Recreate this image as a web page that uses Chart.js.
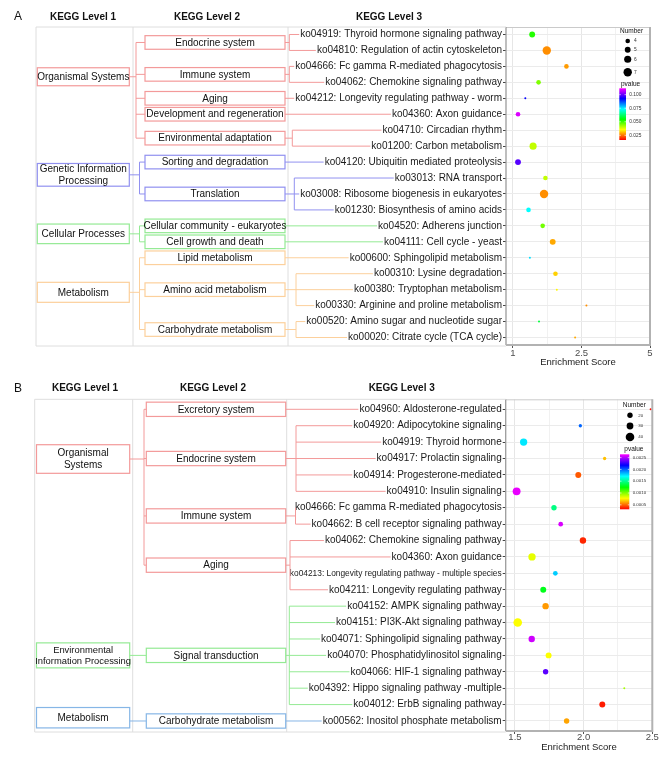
<!DOCTYPE html>
<html><head><meta charset="utf-8">
<script src="https://cdn.jsdelivr.net/npm/chart.js@4.4.1/dist/chart.umd.min.js"></script>
<style>
html,body{margin:0;padding:0;background:#fff;}
#wrap{width:669px;height:766px;overflow:hidden;}
canvas{display:block;}
</style></head><body>
<div id="wrap">
<canvas id="cA" width="669" height="375"></canvas>
<canvas id="cB" width="669" height="391"></canvas>
</div>
<script>
const FONT = '"Liberation Sans", Arial, Helvetica, sans-serif';

// ---------------- Panel A data ----------------
const A_LEVEL3 = [
  'ko04919: Thyroid hormone signaling pathway',
  'ko04810: Regulation of actin cytoskeleton',
  'ko04666: Fc gamma R-mediated phagocytosis',
  'ko04062: Chemokine signaling pathway',
  'ko04212: Longevity regulating pathway - worm',
  'ko04360: Axon guidance',
  'ko04710: Circadian rhythm',
  'ko01200: Carbon metabolism',
  'ko04120: Ubiquitin mediated proteolysis',
  'ko03013: RNA transport',
  'ko03008: Ribosome biogenesis in eukaryotes',
  'ko01230: Biosynthesis of amino acids',
  'ko04520: Adherens junction',
  'ko04111: Cell cycle - yeast',
  'ko00600: Sphingolipid metabolism',
  'ko00310: Lysine degradation',
  'ko00380: Tryptophan metabolism',
  'ko00330: Arginine and proline metabolism',
  'ko00520: Amino sugar and nucleotide sugar',
  'ko00020: Citrate cycle (TCA cycle)'
];
const A_LEVEL2 = [
  'Endocrine system','Endocrine system','Immune system','Immune system','Aging',
  'Development and regeneration','Environmental adaptation','Environmental adaptation',
  'Sorting and degradation','Translation','Translation','Translation',
  'Cellular community - eukaryotes','Cell growth and death','Lipid metabolism',
  'Amino acid metabolism','Amino acid metabolism','Amino acid metabolism',
  'Carbohydrate metabolism','Carbohydrate metabolism'
];
const A_LEVEL1 = [
  'Organismal Systems','Organismal Systems','Organismal Systems','Organismal Systems',
  'Organismal Systems','Organismal Systems','Organismal Systems','Organismal Systems',
  'Genetic Information Processing','Genetic Information Processing','Genetic Information Processing','Genetic Information Processing',
  'Cellular Processes','Cellular Processes',
  'Metabolism','Metabolism','Metabolism','Metabolism','Metabolism','Metabolism'
];
const A_ENRICH = [1.42,1.74,2.17,1.56,1.27,1.11,null,1.44,1.11,1.71,1.68,1.34,1.65,1.87,1.37,1.93,1.96,2.68,1.57,2.36];
const A_NUMBER = [5,7,4,4,2,4,null,6,5,4,7,4,4,5,2,4,2,2,2,2];
const A_PVALUE = [0.052,0.027,0.028,0.045,0.093,0.109,null,0.040,0.099,0.040,0.027,0.0736,0.046,0.029,0.076,0.032,0.035,0.027,0.059,0.029];
const A_X_TICKS = [1, 2.5, 5];
const A_X_TICK_LABELS = ['1', '2.5', '5'];
const A_X_RANGE = [0.847, 5];
const A_SIZE_BREAKS = [4, 5, 6, 7];
const A_P_RANGE = [0.0164, 0.1117];
const A_P_TICKS = [0.025, 0.050, 0.075, 0.100];
const A_P_TICK_LABELS = ['0.025', '0.050', '0.075', '0.100'];

// ---------------- Panel B data ----------------
const B_LEVEL3 = [
  'ko04960: Aldosterone-regulated',
  'ko04920: Adipocytokine signaling',
  'ko04919: Thyroid hormone',
  'ko04917: Prolactin signaling',
  'ko04914: Progesterone-mediated',
  'ko04910: Insulin signaling',
  'ko04666: Fc gamma R-mediated phagocytosis',
  'ko04662: B cell receptor signaling pathway',
  'ko04062: Chemokine signaling pathway',
  'ko04360: Axon guidance',
  'ko04213: Longevity regulating pathway - multiple species',
  'ko04211: Longevity regulating pathway',
  'ko04152: AMPK signaling pathway',
  'ko04151: PI3K-Akt signaling pathway',
  'ko04071: Sphingolipid signaling pathway',
  'ko04070: Phosphatidylinositol signaling',
  'ko04066: HIF-1 signaling pathway',
  'ko04392: Hippo signaling pathway -multiple',
  'ko04012: ErbB signaling pathway',
  'ko00562: Inositol phosphate metabolism'
];
const B_LEVEL2 = [
  'Excretory system','Endocrine system','Endocrine system','Endocrine system','Endocrine system','Endocrine system',
  'Immune system','Immune system','Aging','Aging','Aging','Aging',
  'Signal transduction','Signal transduction','Signal transduction','Signal transduction','Signal transduction','Signal transduction','Signal transduction',
  'Carbohydrate metabolism'
];
const B_LEVEL1 = [
  'Organismal Systems','Organismal Systems','Organismal Systems','Organismal Systems','Organismal Systems','Organismal Systems',
  'Organismal Systems','Organismal Systems','Organismal Systems','Organismal Systems','Organismal Systems','Organismal Systems',
  'Environmental Information Processing','Environmental Information Processing','Environmental Information Processing',
  'Environmental Information Processing','Environmental Information Processing','Environmental Information Processing',
  'Environmental Information Processing','Metabolism'
];
const B_ENRICH = [2.488,1.976,1.563,2.153,1.961,1.512,1.784,1.833,1.995,1.624,1.794,1.706,1.723,1.52,1.622,1.745,1.723,2.296,2.136,1.876];
const B_NUMBER = [10,14,33,14,24,36,20,18,27,33,18,24,27,40,27,24,20,10,24,20];
const B_PVALUE = [0.00033,0.00199,0.00175,0.00066,0.00047,0.0026,0.00148,0.00257,0.00038,0.00082,0.0018,0.00129,0.00059,0.00078,0.00255,0.00078,0.00234,0.00094,0.00036,0.00061];
const B_X_TICKS = [1.5, 2.0, 2.5];
const B_X_TICK_LABELS = ['1.5', '2.0', '2.5'];
const B_X_RANGE = [1.4325, 2.5];
const B_SIZE_BREAKS = [20, 30, 40];
const B_P_RANGE = [0.00031, 0.00264];
const B_P_TICKS = [0.0005, 0.0010, 0.0015, 0.0020, 0.0025];
const B_P_TICK_LABELS = ['0.0005', '0.0010', '0.0015', '0.0020', '0.0025'];

// ---------------- styles / layout ----------------
const RAINBOW = ['#ff0000', '#ffff00', '#00ff00', '#00ffff', '#0000ff', '#ff00ff'];

const STYLE_A = {
  letter: 'A', canvas: 'cA', height: 375,
  area: {top: 27, left: 506, right: 650, bottom: 345},
  rowPad: 0.47, grid: 0.5,
  sizeStops: [[2, 1.0], [4, 2.3], [7, 4.2]],
  labelMaxW: 215, tickPad: 0, titlePad: 7,
  header: {y: 17, letterX: 18, x: [83, 207, 389]},
  frame: {left: 36, col1: 133, col2: 288},
  l1Box: {left: 37.3, right: 129.3},
  l2Box: {left: 145, right: 285, h: 13.6},
  l1: {
    'Organismal Systems': {lines: ['Organismal Systems'], h: 18, row: 2.65, bx: 136, color: '#f39a9a'},
    'Genetic Information Processing': {lines: ['Genetic Information', 'Processing'], h: 22.7, row: 8.8, bx: 139.5, gap: 12, color: '#9191f0'},
    'Cellular Processes': {lines: ['Cellular Processes'], h: 19.6, bx: 139.5, color: '#94ea94'},
    'Metabolism': {lines: ['Metabolism'], h: 20, bx: 139.5, color: '#fcd09c'}
  },
  l2bx: {'Endocrine system': 289.3, 'Immune system': 289.3, 'Environmental adaptation': 292.3,
         'Translation': 294.3, 'Amino acid metabolism': 296, 'Carbohydrate metabolism': 296},
  legend: {numTitle: [-30, 4.3], dotX: -22.3, dotY: [14, 22.7, 32.3, 45.3], numLabelX: -16,
           pTitle: [-29, 57], bar: [-30.7, -24, 61.3, 113], pLabelX: -20.7, titleSize: 6.5, labelSize: 4.8}
};
const STYLE_B = {
  letter: 'B', canvas: 'cB', height: 391,
  area: {top: 24.3, left: 505.7, right: 652.3, bottom: 356},
  rowPad: 0.61, grid: 0.5,
  sizeStops: [[10, 1.0], [20, 2.7], [30, 3.4], [40, 4.3]],
  labelMaxW: 212, tickPad: -2, titlePad: 12.6,
  header: {y: 13.5, letterX: 18, x: [85, 213, 401.7]},
  frame: {left: 34.7, col1: 132.7, col2: 286.7},
  l1Box: {left: 36.5, right: 129.7},
  l2Box: {left: 146.3, right: 285.7, h: 14.3},
  l1: {
    'Organismal Systems': {lines: ['Organismal', 'Systems'], h: 28.6, row: 3.03, bx: 144, gap: 12, color: '#f39a9a'},
    'Environmental Information Processing': {lines: ['Environmental', 'Information Processing'], h: 25, bx: 144, gap: 11, size: 9.4, color: '#94ea94'},
    'Metabolism': {lines: ['Metabolism'], h: 20.4, row: 18.8, bx: 144, color: '#86b6e6'}
  },
  l2bx: {'Endocrine system': 296, 'Immune system': 295.5, 'Aging': 290, 'Signal transduction': 289.3},
  legend: {numTitle: [-29.6, 6], dotX: -22.3, dotY: [16, 26.7, 37.7], numLabelX: -14,
           pTitle: [-28, 50], bar: [-32.3, -23, 55, 110], pLabelX: -19.6, titleSize: 6.5, labelSize: 4.4}
};

// ---------------- helpers ----------------
function hexToRgb(h) { return [1, 3, 5].map(i => parseInt(h.substr(i, 2), 16)); }
function colorAt(f) {
  f = Math.max(0, Math.min(1, f));
  const s = f * (RAINBOW.length - 1), k = Math.min(Math.floor(s), RAINBOW.length - 2), t = s - k;
  const a = hexToRgb(RAINBOW[k]), b = hexToRgb(RAINBOW[k + 1]);
  const c = a.map((v, i) => Math.round(v + (b[i] - v) * t));
  return `rgb(${c[0]},${c[1]},${c[2]})`;
}
function interp(stops, n) {
  if (n <= stops[0][0]) return stops[0][1];
  for (let k = 0; k < stops.length - 1; k++) {
    const [x0, y0] = stops[k], [x1, y1] = stops[k + 1];
    if (n <= x1 || k === stops.length - 2) return y0 + (y1 - y0) * (n - x0) / (x1 - x0);
  }
}
function makeIdx(ticks) {
  return v => {
    for (let k = 0; k < ticks.length - 1; k++) {
      if (v <= ticks[k + 1] || k === ticks.length - 2) return k + (v - ticks[k]) / (ticks[k + 1] - ticks[k]);
    }
  };
}
function runs(arr) {
  const out = [];
  arr.forEach((v, i) => {
    if (out.length && out[out.length - 1].name === v) out[out.length - 1].rows.push(i);
    else out.push({name: v, rows: [i]});
  });
  return out;
}
const measureCtx = document.createElement('canvas').getContext('2d');
function textW(t, size) { measureCtx.font = `${size}px ${FONT}`; return measureCtx.measureText(t).width; }

function buildPanel(D, S) {
  const n = D.level3.length;
  const toIdx = makeIdx(D.xTicks);
  const labelSizes = D.level3.map(t => Math.min(10, 10 * S.labelMaxW / textW(t, 10)));
  const radius = v => interp(S.sizeStops, v);
  const pts = [], cols = [];
  D.enrich.forEach((v, i) => {
    if (v == null) return;
    pts.push({x: toIdx(v), y: i, r: radius(D.number[i])});
    cols.push(colorAt((D.pvalue[i] - D.pRange[0]) / (D.pRange[1] - D.pRange[0])));
  });
  const xMin = toIdx(D.xRange[0]), xMax = toIdx(D.xRange[1]);
  const xTickVals = [];
  for (let v = Math.ceil(xMin / S.grid) * S.grid; v <= xMax + 1e-9; v += S.grid) xTickVals.push(+v.toFixed(6));

  const treePlugin = {
    id: 'tree' + S.letter,
    afterDraw(chart) {
      const ctx = chart.ctx, ys = chart.scales.y, A = chart.chartArea;
      const rowY = r => ys.getPixelForValue(r);
      const textStart = r => A.left - 4 - textW(D.level3[r], labelSizes[r]) - 1;
      ctx.save();
      // frame
      ctx.strokeStyle = '#dedede'; ctx.lineWidth = 1;
      ctx.beginPath();
      const fb = A.bottom + 1;
      ctx.moveTo(S.frame.left, A.top); ctx.lineTo(A.left, A.top);
      ctx.moveTo(S.frame.left, fb); ctx.lineTo(A.left, fb);
      [S.frame.left, S.frame.col1, S.frame.col2].forEach(x => { ctx.moveTo(x, A.top); ctx.lineTo(x, fb); });
      ctx.stroke();
      // headers
      ctx.fillStyle = '#111'; ctx.textBaseline = 'middle';
      ctx.font = `12px ${FONT}`; ctx.textAlign = 'left';
      ctx.fillText(S.letter, S.header.letterX - 4, S.header.y);
      ctx.font = `bold 10px ${FONT}`; ctx.textAlign = 'center';
      ['KEGG Level 1', 'KEGG Level 2', 'KEGG Level 3'].forEach((t, k) => ctx.fillText(t, S.header.x[k], S.header.y));
      // groups
      const L2 = runs(D.level2).map(g => ({...g, cy: g.rows.reduce((s, r) => s + rowY(r), 0) / g.rows.length}));
      const L1 = runs(D.level1).map(g => ({...g, kids: L2.filter(k => g.rows.includes(k.rows[0]))}));
      L1.forEach(g => {
        const c = S.l1[g.name];
        const cy = c.row != null ? rowY(c.row) : g.kids.reduce((s, k) => s + k.cy, 0) / g.kids.length;
        ctx.strokeStyle = c.color; ctx.lineWidth = 1.2;
        ctx.strokeRect(S.l1Box.left, cy - c.h / 2, S.l1Box.right - S.l1Box.left, c.h);
        ctx.fillStyle = '#111'; ctx.font = `${c.size || 10}px ${FONT}`; ctx.textAlign = 'center';
        const gap = c.gap || 12;
        c.lines.forEach((t, k) => ctx.fillText(t, (S.l1Box.left + S.l1Box.right) / 2, cy + (k - (c.lines.length - 1) / 2) * gap + 0.5));
        ctx.lineWidth = 1;
        ctx.beginPath();
        if (g.kids.length === 1) {
          ctx.moveTo(S.l1Box.right, g.kids[0].cy); ctx.lineTo(S.l2Box.left, g.kids[0].cy);
        } else {
          const ysK = g.kids.map(k => k.cy);
          ctx.moveTo(S.l1Box.right, cy); ctx.lineTo(c.bx, cy);
          ctx.moveTo(c.bx, Math.min(cy, ...ysK)); ctx.lineTo(c.bx, Math.max(cy, ...ysK));
          ysK.forEach(y => { ctx.moveTo(c.bx, y); ctx.lineTo(S.l2Box.left, y); });
        }
        ctx.stroke();
        g.kids.forEach(k => {
          ctx.strokeStyle = c.color; ctx.lineWidth = 1.2;
          ctx.strokeRect(S.l2Box.left, k.cy - S.l2Box.h / 2, S.l2Box.right - S.l2Box.left, S.l2Box.h);
          ctx.fillStyle = '#111'; ctx.font = `10px ${FONT}`; ctx.textAlign = 'center';
          ctx.fillText(k.name, (S.l2Box.left + S.l2Box.right) / 2, k.cy + 0.5);
          ctx.lineWidth = 1;
          ctx.beginPath();
          if (k.rows.length === 1) {
            const y = rowY(k.rows[0]);
            ctx.moveTo(S.l2Box.right, y); ctx.lineTo(textStart(k.rows[0]), y);
          } else {
            const bx = S.l2bx[k.name];
            const rys = k.rows.map(rowY);
            ctx.moveTo(S.l2Box.right, k.cy); ctx.lineTo(bx, k.cy);
            ctx.moveTo(bx, Math.min(...rys)); ctx.lineTo(bx, Math.max(...rys));
            k.rows.forEach((r, j) => { ctx.moveTo(bx, rys[j]); ctx.lineTo(Math.max(bx, textStart(r)), rys[j]); });
          }
          ctx.stroke();
        });
      });
      ctx.restore();
    }
  };

  const framePlugin = {
    id: 'frame' + S.letter,
    afterDatasetsDraw(chart) {
      const ctx = chart.ctx, A = chart.chartArea;
      ctx.save();
      ctx.lineWidth = 1; ctx.strokeStyle = '#cacaca';
      ctx.beginPath(); ctx.moveTo(A.left, A.top + 0.5); ctx.lineTo(A.right, A.top + 0.5); ctx.stroke();
      ctx.lineWidth = 1.3; ctx.strokeStyle = '#9c9c9c';
      ctx.beginPath(); ctx.moveTo(A.left, A.top); ctx.lineTo(A.left, A.bottom); ctx.stroke();
      ctx.lineWidth = 2; ctx.strokeStyle = '#b2b2b2';
      ctx.beginPath(); ctx.moveTo(A.left, A.bottom); ctx.lineTo(A.right, A.bottom); ctx.lineTo(A.right, A.top); ctx.stroke();
      // legend
      const G = S.legend, R = A.right, T = A.top;
      ctx.textAlign = 'left'; ctx.textBaseline = 'middle';
      ctx.fillStyle = '#111'; ctx.font = `${G.titleSize}px ${FONT}`;
      ctx.fillText('Number', R + G.numTitle[0], T + G.numTitle[1]);
      D.sizeBreaks.forEach((v, k) => {
        const y = T + G.dotY[k];
        ctx.beginPath(); ctx.arc(R + G.dotX, y, radius(v), 0, 2 * Math.PI);
        ctx.fillStyle = '#000'; ctx.fill();
        ctx.fillStyle = '#333'; ctx.font = `${G.labelSize}px ${FONT}`;
        ctx.fillText(String(v), R + G.numLabelX, y);
      });
      ctx.fillStyle = '#111'; ctx.font = `${G.titleSize}px ${FONT}`;
      ctx.fillText('pvalue', R + G.pTitle[0], T + G.pTitle[1]);
      const x0 = R + G.bar[0], x1 = R + G.bar[1], y0 = T + G.bar[2], y1 = T + G.bar[3];
      const grad = ctx.createLinearGradient(0, y1, 0, y0);
      RAINBOW.forEach((c, k) => grad.addColorStop(k / (RAINBOW.length - 1), c));
      ctx.fillStyle = grad; ctx.fillRect(x0, y0, x1 - x0, y1 - y0);
      D.pTicks.forEach((p, k) => {
        const y = y1 - (p - D.pRange[0]) / (D.pRange[1] - D.pRange[0]) * (y1 - y0);
        ctx.strokeStyle = '#fff'; ctx.lineWidth = 0.6;
        ctx.beginPath(); ctx.moveTo(x0, y); ctx.lineTo(x0 + 1.5, y); ctx.moveTo(x1 - 1.5, y); ctx.lineTo(x1, y); ctx.stroke();
        ctx.fillStyle = '#333'; ctx.font = `${G.labelSize}px ${FONT}`;
        ctx.fillText(D.pTickLabels[k], R + G.pLabelX, y);
      });
      ctx.restore();
    }
  };

  return new Chart(document.getElementById(S.canvas), {
    type: 'bubble',
    data: {datasets: [{data: pts, backgroundColor: cols, borderWidth: 0, hoverBorderWidth: 0}]},
    options: {
      responsive: false, animation: false, events: [],
      layout: {padding: {top: S.area.top, left: 0, right: 669 - S.area.right, bottom: 0}},
      plugins: {legend: {display: false}, tooltip: {enabled: false}},
      scales: {
        x: {
          type: 'linear', min: xMin, max: xMax,
          afterBuildTicks: sc => { sc.ticks = xTickVals.map(v => ({value: v})); },
          afterFit: sc => { sc.height = S.height - S.area.bottom; },
          border: {display: false},
          grid: {
            color: c => Number.isInteger(c.tick && c.tick.value) ? '#e6e6e6' : '#f1f1f1',
            tickColor: c => Number.isInteger(c.tick && c.tick.value) ? '#555' : 'rgba(0,0,0,0)',
            tickLength: 3, lineWidth: 1
          },
          ticks: {
            autoSkip: false, maxRotation: 0, padding: S.tickPad, color: '#4d4d4d',
            font: {family: FONT, size: 9.5},
            callback: v => Number.isInteger(v) ? D.xTickLabels[v] : ''
          },
          title: {display: true, text: 'Enrichment Score', color: '#1a1a1a',
                  font: {family: FONT, size: 9.5}, padding: {top: 0, bottom: S.titlePad}}
        },
        y: {
          type: 'linear', reverse: true, min: -S.rowPad, max: n - 1 + S.rowPad,
          afterBuildTicks: sc => { sc.ticks = D.level3.map((_, i) => ({value: i})); },
          afterFit: sc => { sc.width = S.area.left; },
          border: {display: false},
          grid: {color: '#ebebeb', tickColor: '#444', tickLength: 3, lineWidth: 1},
          ticks: {
            autoSkip: false, padding: 1, color: '#1a1a1a',
            font: c => ({family: FONT, size: labelSizes[c.index] || 10}),
            callback: v => D.level3[v]
          }
        }
      }
    },
    plugins: [treePlugin, framePlugin]
  });
}

buildPanel({
  level3: A_LEVEL3, level2: A_LEVEL2, level1: A_LEVEL1,
  enrich: A_ENRICH, number: A_NUMBER, pvalue: A_PVALUE,
  xTicks: A_X_TICKS, xTickLabels: A_X_TICK_LABELS, xRange: A_X_RANGE,
  sizeBreaks: A_SIZE_BREAKS, pRange: A_P_RANGE, pTicks: A_P_TICKS, pTickLabels: A_P_TICK_LABELS
}, STYLE_A);
buildPanel({
  level3: B_LEVEL3, level2: B_LEVEL2, level1: B_LEVEL1,
  enrich: B_ENRICH, number: B_NUMBER, pvalue: B_PVALUE,
  xTicks: B_X_TICKS, xTickLabels: B_X_TICK_LABELS, xRange: B_X_RANGE,
  sizeBreaks: B_SIZE_BREAKS, pRange: B_P_RANGE, pTicks: B_P_TICKS, pTickLabels: B_P_TICK_LABELS
}, STYLE_B);
</script>
</body></html>
